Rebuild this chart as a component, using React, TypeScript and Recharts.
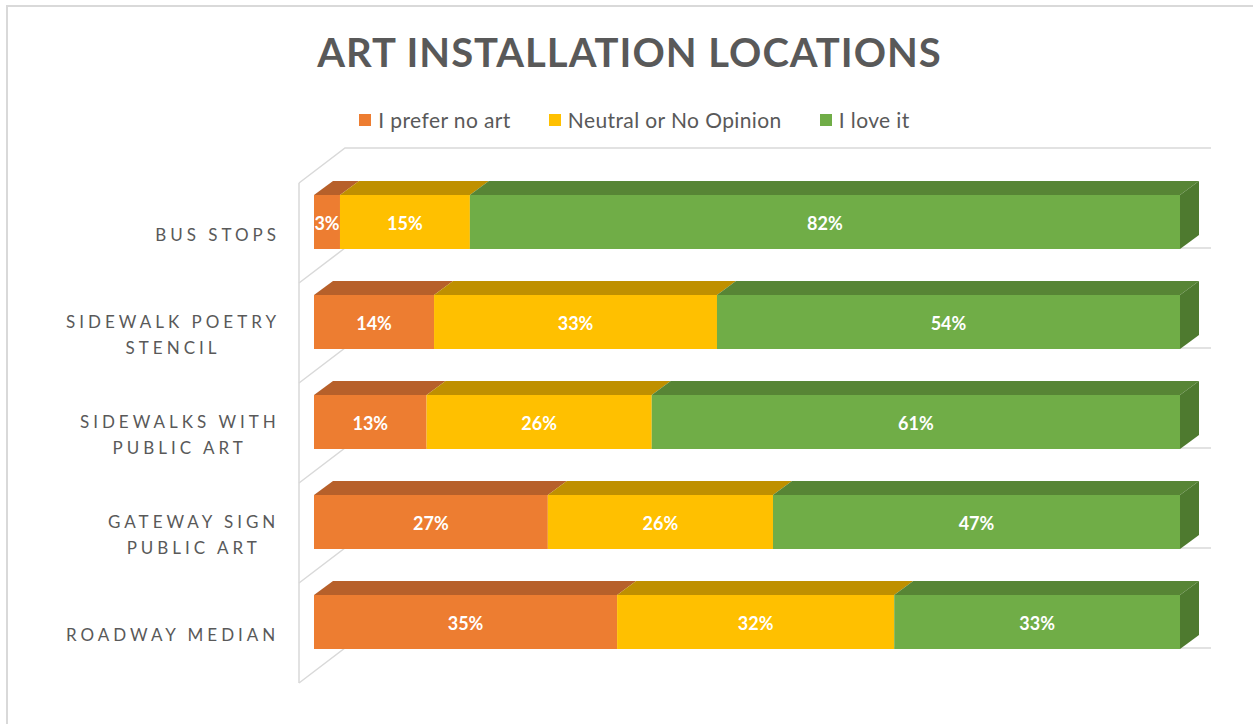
import React from 'react';
import { BarChart, Bar, XAxis, YAxis, CartesianGrid, LabelList } from 'recharts';

// ---------- data ----------
const categories = [
  'BUS STOPS',
  'SIDEWALK POETRY\nSTENCIL',
  'SIDEWALKS WITH\nPUBLIC ART',
  'GATEWAY SIGN\nPUBLIC ART',
  'ROADWAY MEDIAN',
];
const preferNoArt = [3, 14, 13, 27, 35];
const neutralNoOpinion = [15, 33, 26, 26, 32];
const loveIt = [82, 54, 61, 47, 33];
const seriesNames = ['I prefer no art', 'Neutral or No Opinion', 'I love it'];
const chartTitle = 'ART INSTALLATION LOCATIONS';

// ---------- styles ----------
const W = 1253;
const H = 724;
const FONT = 'Lato, "Open Sans", sans-serif';
const TEXT = '#595959';
const GRID = '#D9D9D9';
const COLORS = ['#ED7D31', '#FFC000', '#70AD47'];
const TOPS = ['#B7602A', '#BF9000', '#578535'];
const SIDES = ['#A9561F', '#B08500', '#4E7A2F'];
const DEPTH_X = 19;
const DEPTH_Y = -14;
const WALL_FRONT_DX = -15;
const WALL_FRONT_DY = 11;
const WALL_DX = 46;
const WALL_DY = -35;
const AXIS_FS = 17;
const AXIS_LS = 4;
const LABEL_FS = 18;

const data = categories.map((name, i) => ({
  name,
  noArt: preferNoArt[i],
  neutral: neutralNoOpinion[i],
  love: loveIt[i],
}));

let ctx: CanvasRenderingContext2D | null = null;
function measure(t: string, font: string, ls: number) {
  if (!ctx && typeof document !== 'undefined') ctx = document.createElement('canvas').getContext('2d');
  if (!ctx) return t.length * 10;
  ctx.font = font;
  return ctx.measureText(t).width + ls * (t.length - 1);
}

const CategoryTick = (props: any) => {
  const { x, y, payload } = props;
  const lines = String(payload.value).split('\n');
  const widths = lines.map((l) => measure(l, `${AXIS_FS}px Lato`, AXIS_LS));
  const maxW = Math.max(...widths);
  const cx = x - maxW / 2;
  const lineH = 26;
  const center = y + 12.5;
  const firstCenter = center - ((lines.length - 1) * lineH) / 2;
  return (
    <g>
      {lines.map((l, i) => (
        <text
          key={i}
          x={cx - widths[i] / 2}
          y={firstCenter + i * lineH + AXIS_FS * 0.36}
          textAnchor="start"
          fill={TEXT}
          fontSize={AXIS_FS}
          fontFamily={FONT}
          letterSpacing={AXIS_LS}
        >
          {l}
        </text>
      ))}
    </g>
  );
};

const ValueLabel = (p: any) => {
  const { x, y, width, height, value } = p;
  if (value == null) return null;
  return (
    <text
      x={x + width / 2}
      y={y + height / 2 + LABEL_FS * 0.36 + 1.5}
      textAnchor="middle"
      fill="#FFFFFF"
      fontSize={LABEL_FS}
      fontWeight={700}
      fontFamily={FONT}
    >
      {`${value}%`}
    </text>
  );
};

const make3D = (si: number, last: boolean) => (p: any) => {
  const { x, y, width, height } = p;
  if (!(width > 0) || !(height > 0)) return <g />;
  const x2 = x + width;
  return (
    <g>
      <rect x={x} y={y} width={width} height={height} fill={COLORS[si]} />
      <polygon
        points={`${x},${y} ${x2},${y} ${x2 + DEPTH_X},${y + DEPTH_Y} ${x + DEPTH_X},${y + DEPTH_Y}`}
        fill={TOPS[si]}
      />
      {last && (
        <polygon
          points={`${x2},${y} ${x2 + DEPTH_X},${y + DEPTH_Y} ${x2 + DEPTH_X},${y + height + DEPTH_Y} ${x2},${y + height}`}
          fill={SIDES[si]}
        />
      )}
    </g>
  );
};

const WallHLine = (p: any) => {
  const { x1, x2, y1, index } = p;
  const fx = x1 + WALL_FRONT_DX;
  const fy = y1 + WALL_FRONT_DY;
  const bx = fx + WALL_DX;
  const by = fy + WALL_DY;
  const ex = x2 + WALL_FRONT_DX + WALL_DX;
  return (
    <g key={`h-${index}`}>
      <polyline points={`${fx},${fy} ${bx},${by} ${ex},${by}`} fill="none" stroke={GRID} strokeWidth={1.5} />
    </g>
  );
};

const WallVLine = (p: any) => {
  const { x1, y1, y2, index } = p;
  const fx = x1 + WALL_FRONT_DX;
  return (
    <line key={`v-${index}`} x1={fx} y1={y1 + WALL_FRONT_DY} x2={fx} y2={y2 + WALL_FRONT_DY} stroke={GRID} strokeWidth={1.5} />
  );
};

const keys = ['noArt', 'neutral', 'love'];

export default function App() {
  return (
    <div
      style={{
        position: 'absolute',
        left: 0,
        top: 0,
        width: W,
        height: H,
        overflow: 'hidden',
        background: '#fff',
        fontFamily: FONT,
      }}
    >
      <div
        style={{
          position: 'absolute',
          left: 6,
          top: 5,
          width: 1270,
          height: 740,
          border: `2px solid ${GRID}`,
          boxSizing: 'border-box',
        }}
      />
      <div
        style={{
          position: 'absolute',
          left: 0,
          top: 32,
          width: 1259,
          textAlign: 'center',
          fontSize: 40,
          lineHeight: '40px',
          fontWeight: 700,
          letterSpacing: 1,
          color: TEXT,
          whiteSpace: 'nowrap',
        }}
      >
        {chartTitle}
      </div>
      <div
        style={{
          position: 'absolute',
          left: 0,
          top: 109,
          width: 1269,
          display: 'flex',
          justifyContent: 'center',
          gap: 38,
          fontSize: 21,
          lineHeight: '21px',
          letterSpacing: 0.4,
          color: TEXT,
          whiteSpace: 'nowrap',
        }}
      >
        {seriesNames.map((n, i) => (
          <div key={n} style={{ display: 'flex', alignItems: 'center' }}>
            <span style={{ display: 'inline-block', width: 12, height: 12, background: COLORS[i], marginRight: 7 }} />
            <span>{n}</span>
          </div>
        ))}
      </div>
      <div style={{ position: 'absolute', left: 0, top: 0 }}>
        <BarChart
          width={W}
          height={H}
          data={data}
          layout="vertical"
          stackOffset="expand"
          margin={{ top: 172, right: 73, bottom: 52, left: 0 }}
        >
          <CartesianGrid
            horizontal={WallHLine}
            vertical={WallVLine}
            horizontalCoordinatesGenerator={({ offset }: any) =>
              categories.concat(['']).map((_, i) => offset.top + (i * offset.height) / categories.length)
            }
            verticalCoordinatesGenerator={({ offset }: any) => [offset.left]}
          />
          <XAxis type="number" hide domain={[0, 1]} />
          <YAxis
            type="category"
            dataKey="name"
            width={314}
            axisLine={false}
            tickLine={false}
            tickMargin={32}
            tick={<CategoryTick />}
            interval={0}
          />
          {keys.map((k, i) => (
            <Bar
              key={k}
              dataKey={k}
              name={seriesNames[i]}
              stackId="a"
              barSize={54}
              fill={COLORS[i]}
              isAnimationActive={false}
              shape={make3D(i, i === keys.length - 1)}
            >
              <LabelList dataKey={k} content={<ValueLabel />} />
            </Bar>
          ))}
        </BarChart>
      </div>
    </div>
  );
}
